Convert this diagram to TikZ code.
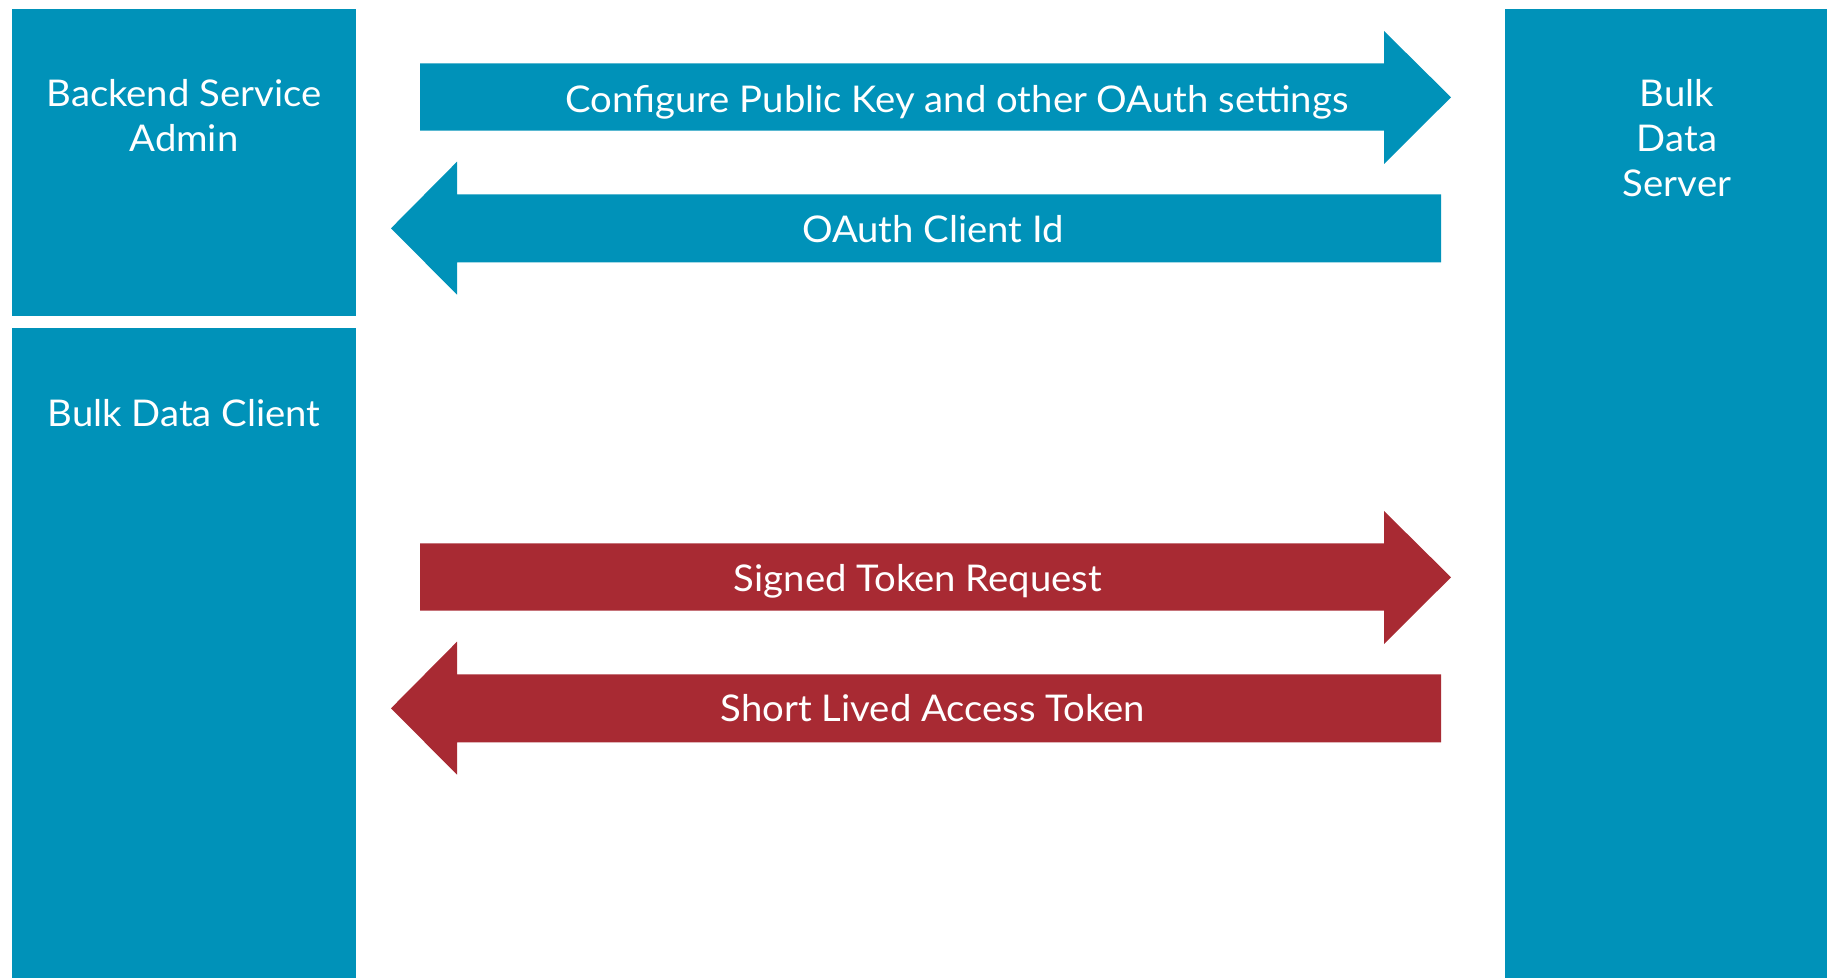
\documentclass[tikz,border=0pt]{standalone}
\usepackage{fontspec}
\setmainfont{Lato}[FakeStretch=1.04]
\definecolor{cblue}{HTML}{0092B9}
\definecolor{cred}{HTML}{A82A33}
\tikzset{
  box/.style={fill=cblue, draw=none},
  lbl/.style={text=white, inner sep=0pt, font=\fontsize{18.4}{22.5}\selectfont, align=center},
}
\begin{document}
\begin{tikzpicture}[x=0.5pt, y=-0.5pt]
\useasboundingbox (0,0) rectangle (1827,978);
% boxes
\fill[box] (12,9) rectangle (356,316);
\fill[box] (12,328) rectangle (356,978);
\fill[box] (1505,9) rectangle (1827,978);
\node[lbl] (admin) at (184,116) {Backend Service\\Admin};
\node[lbl] (client) at (184,413) {Bulk Data Client};
\node[lbl] (server) at (1677,138) {Bulk\\Data\\Server};
% arrows
\fill[cblue] (420,63.3) -- (1384,63.3) -- (1384,31) -- (1451,97.3) -- (1384,164) -- (1384,130.7) -- (420,130.7) -- cycle;
\fill[cblue] (1441,194.3) -- (457,194.3) -- (457,161.7) -- (391,228.3) -- (457,294.7) -- (457,262.3) -- (1441,262.3) -- cycle;
\fill[cred] (420,543.3) -- (1384,543.3) -- (1384,511) -- (1451,577.3) -- (1384,644) -- (1384,610.7) -- (420,610.7) -- cycle;
\fill[cred] (1441,674.3) -- (457,674.3) -- (457,641.7) -- (391,708.3) -- (457,774.7) -- (457,742.3) -- (1441,742.3) -- cycle;
% arrow labels
\node[lbl, anchor=base] (l1) at (957,113) {Configure Public Key and other OAuth settings};
\node[lbl, anchor=base] (l2) at (933,243) {OAuth Client Id};
\node[lbl, anchor=base] (l3) at (918,591.7) {Signed Token Request};
\node[lbl, anchor=base] (l4) at (933,721.7) {Short Lived Access Token};
\end{tikzpicture}
\end{document}
